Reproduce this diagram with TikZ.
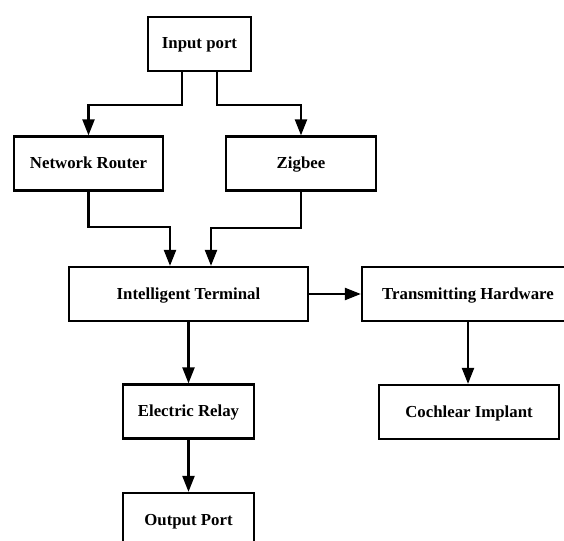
\documentclass[tikz,border=0pt]{standalone}
\usepackage{fontspec}
\setmainfont{Liberation Serif}
\usetikzlibrary{arrows.meta}

\begin{document}
\begin{tikzpicture}[x=1pt, y=-1pt,
  box/.style={draw, line width=2.2pt, minimum height=54pt, inner sep=0pt,
    text height=12.5pt, text depth=2.5pt,
    font=\fontsize{16.8}{20}\selectfont\bfseries},
  arr/.style={line width=2.2pt, -{Triangle[width=12pt,length=16pt]}}]
\useasboundingbox (0,0) rectangle (564,540);
\clip (0,0) rectangle (564,540);
\node[box, minimum width=103pt] (inport) at (199.5,44) {Input port};
\node[box, minimum width=149pt] (router) at (88.5,163.5) {Network Router};
\node[box, minimum width=150pt] (zigbee) at (301,163.5) {Zigbee};
\node[box, minimum width=239pt] (terminal) at (188.5,294) {Intelligent Terminal};
\node[box, minimum width=212pt] (transmit) at (468,294) {Transmitting Hardware};
\node[box, minimum width=131pt] (relay) at (188.5,411.5) {Electric Relay};
\node[box, minimum width=180pt] (implant) at (469,412) {Cochlear Implant};
\node[box, minimum width=131pt] (outport) at (188.5,520) {Output Port};
\draw[arr] ([xshift=-17.5pt]inport.south) -- ++(0,33) -| (router.north);
\draw[arr] ([xshift=17.5pt]inport.south) -- ++(0,33) -| (zigbee.north);
\draw[arr] (router.south) -- ++(0,35) -| ([xshift=-18.5pt]terminal.north);
\draw[arr] (zigbee.south) -- ++(0,36) -| ([xshift=22.5pt]terminal.north);
\draw[arr] (terminal.east) -- (transmit.west);
\draw[arr] (terminal.south) -- (relay.north);
\draw[arr] (transmit.south) -- (transmit.south |- implant.north);
\draw[arr] (relay.south) -- (outport.north);
\end{tikzpicture}
\end{document}
